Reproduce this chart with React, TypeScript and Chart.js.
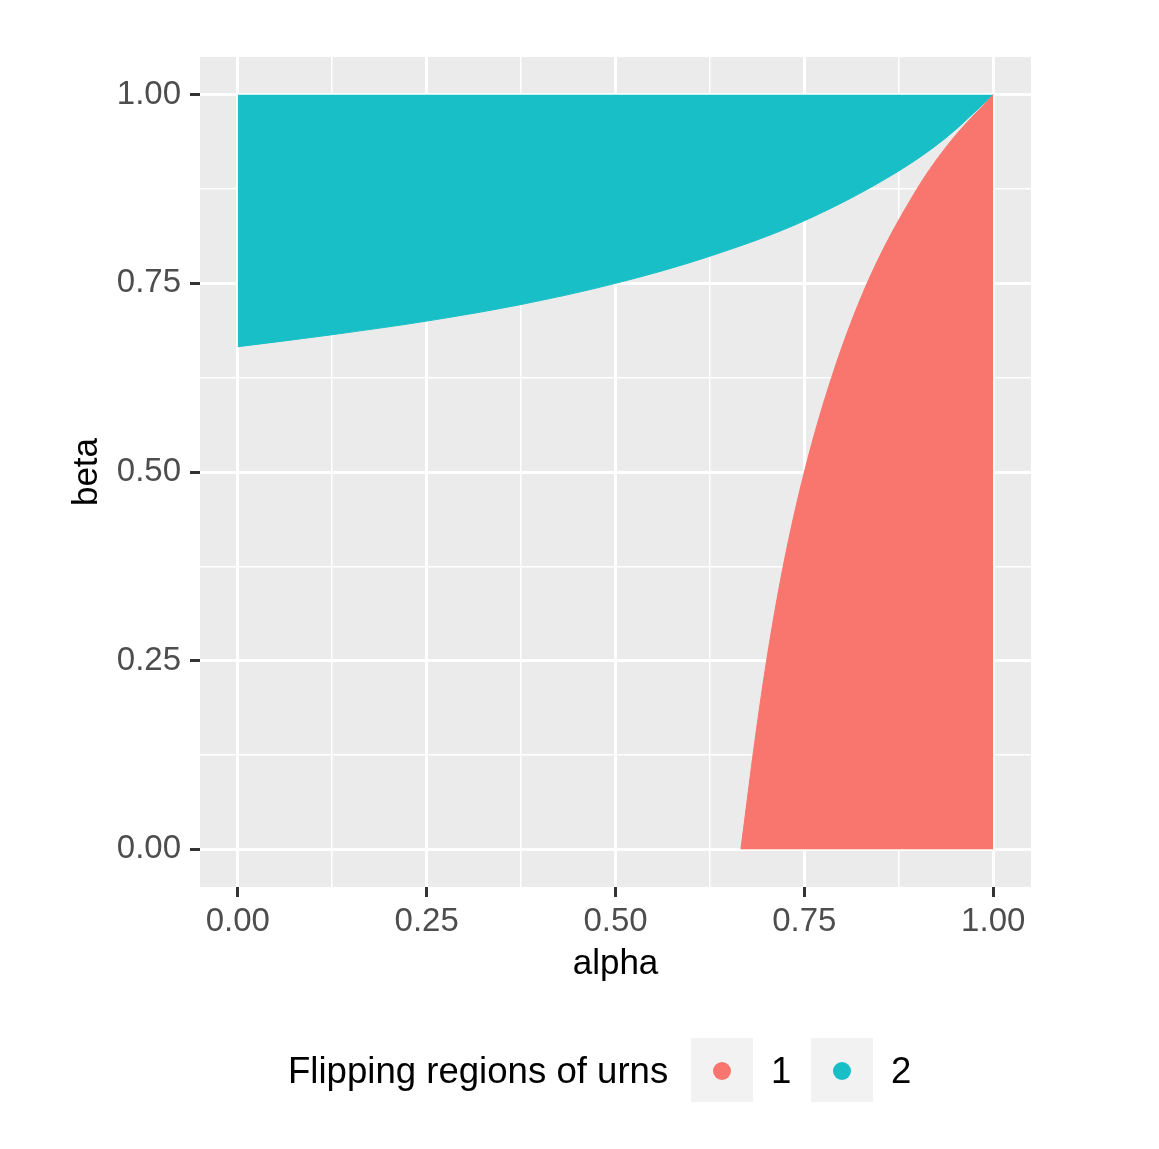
import React, { useEffect, useRef } from "react";
import { Chart, registerables } from "chart.js";

Chart.register(...registerables);

// Tick positions (major + minor) for both axes
const alphaTicks = [0, 0.125, 0.25, 0.375, 0.5, 0.625, 0.75, 0.875, 1];
const betaTicks = [0, 0.125, 0.25, 0.375, 0.5, 0.625, 0.75, 0.875, 1];
const majorTickLabels = ["0.00", "0.25", "0.50", "0.75", "1.00"];

// Region 2 (teal): lower boundary curve, filled up to beta = 1
const region2Alpha = [0, 0.125, 0.25, 0.375, 0.5, 0.625, 0.75, 0.875, 0.9375, 1];
const region2Beta = [0.666, 0.682, 0.7, 0.722, 0.75, 0.786, 0.833, 0.899, 0.943, 1];

// Region 1 (red): left boundary curve, filled down to beta = 0
const region1Alpha = [0.666, 0.674, 0.682, 0.7, 0.722, 0.75, 0.786, 0.833, 0.899, 0.943, 1];
const region1Beta = [0, 0.0625, 0.125, 0.25, 0.375, 0.5, 0.625, 0.75, 0.875, 0.9375, 1];

const legendTitle = "Flipping regions of urns";
const legendLabels = ["1", "2"];
const colors = ["#F8766D", "#19BFC6"];

const FONT = "'Liberation Sans', Arial, Helvetica, sans-serif";

const panelBg = {
  id: "panelBg",
  beforeDraw(chart: any) {
    const { ctx, chartArea } = chart;
    ctx.save();
    ctx.fillStyle = "#EBEBEB";
    ctx.fillRect(chartArea.left, chartArea.top, chartArea.right - chartArea.left, chartArea.bottom - chartArea.top);
    ctx.restore();
  },
};

export default function App() {
  const ref = useRef<HTMLCanvasElement | null>(null);

  useEffect(() => {
    if (!ref.current) return;
    const toPts = (xs: number[], ys: number[]) => xs.map((x, i) => ({ x, y: ys[i] }));
    const isMajor = (i: number) => i % 2 === 0;
    const gridOpts = {
      color: "#FFFFFF",
      lineWidth: (c: any) => (isMajor(c.index) ? 3 : 1.5),
      drawTicks: true,
      tickLength: 10,
      tickColor: (c: any) => (isMajor(c.index) ? "#333333" : "rgba(0,0,0,0)"),
      tickWidth: 3,
    };
    const chart = new Chart(ref.current, {
      type: "line",
      data: {
        datasets: [
          {
            label: legendLabels[0],
            data: toPts(region1Alpha, region1Beta),
            borderColor: colors[0],
            backgroundColor: colors[0],
            borderWidth: 1,
            pointRadius: 0,
            fill: "origin",
            cubicInterpolationMode: "monotone",
            order: 0,
          },
          {
            label: legendLabels[1],
            data: toPts(region2Alpha, region2Beta),
            borderColor: colors[1],
            backgroundColor: colors[1],
            borderWidth: 1,
            pointRadius: 0,
            fill: { value: 1 },
            cubicInterpolationMode: "monotone",
            order: 1,
          },
        ],
      },
      options: {
        animation: false,
        responsive: false,
        devicePixelRatio: 1,
        parsing: false as any,
        layout: { padding: { left: 0, top: 57, right: 128, bottom: 0 } },
        plugins: {
          legend: { display: false },
          tooltip: { enabled: false },
        },
        scales: {
          x: {
            type: "linear",
            min: -0.05,
            max: 1.05,
            afterBuildTicks: (s: any) => {
              s.ticks = alphaTicks.map((v) => ({ value: v }));
            },
            afterFit: (s: any) => {
              s.height = 262;
            },
            grid: gridOpts as any,
            border: { display: false },
            ticks: {
              autoSkip: false,
              maxRotation: 0,
              padding: 5,
              color: "#4D4D4D",
              font: { family: FONT, size: 33 },
              callback: (_v: any, i: number) => (isMajor(i) ? majorTickLabels[i / 2] : ""),
            },
            title: {
              display: true,
              text: "alpha",
              color: "#000000",
              font: { family: FONT, size: 35 },
              padding: { top: 0, bottom: 164 },
            },
          },
          y: {
            type: "linear",
            min: -0.05,
            max: 1.05,
            afterBuildTicks: (s: any) => {
              s.ticks = betaTicks.map((v) => ({ value: v }));
            },
            afterFit: (s: any) => {
              s.width = 200;
            },
            grid: gridOpts as any,
            border: { display: false },
            ticks: {
              autoSkip: false,
              padding: 9,
              color: "#4D4D4D",
              font: { family: FONT, size: 33 },
              callback: (_v: any, i: number) => (isMajor(i) ? majorTickLabels[i / 2] : ""),
            },
            title: {
              display: true,
              text: "beta",
              color: "#000000",
              font: { family: FONT, size: 35 },
              padding: { top: 66, bottom: 0 },
            },
          },
        },
      },
      plugins: [panelBg],
    } as any);
    return () => chart.destroy();
  }, []);

  const boxLefts = [691, 811];
  const labelLefts = [771, 891];

  return (
    <div style={{ position: "absolute", left: 0, top: 0, width: 1159, height: 1149, background: "#FFFFFF", overflow: "hidden" }}>
      <canvas ref={ref} width={1159} height={1149} style={{ position: "absolute", left: 0, top: 0, width: 1159, height: 1149 }} />
      <div
        style={{
          position: "absolute",
          left: 288,
          top: 1050,
          height: 42,
          lineHeight: "42px",
          fontFamily: FONT,
          fontSize: 36.6,
          color: "#000000",
          whiteSpace: "nowrap",
        }}
      >
        {legendTitle}
      </div>
      {legendLabels.map((lab, i) => (
        <React.Fragment key={lab}>
          <div
            style={{
              position: "absolute",
              left: boxLefts[i],
              top: 1038,
              width: 62,
              height: 64,
              background: "#F2F2F2",
            }}
          >
            <div
              style={{
                position: "absolute",
                left: 31 - 9,
                top: 33 - 9,
                width: 18,
                height: 18,
                borderRadius: "50%",
                background: colors[i],
              }}
            />
          </div>
          <div
            style={{
              position: "absolute",
              left: labelLefts[i],
              top: 1050,
              height: 42,
              lineHeight: "42px",
              fontFamily: FONT,
              fontSize: 36.6,
              color: "#000000",
            }}
          >
            {lab}
          </div>
        </React.Fragment>
      ))}
    </div>
  );
}
